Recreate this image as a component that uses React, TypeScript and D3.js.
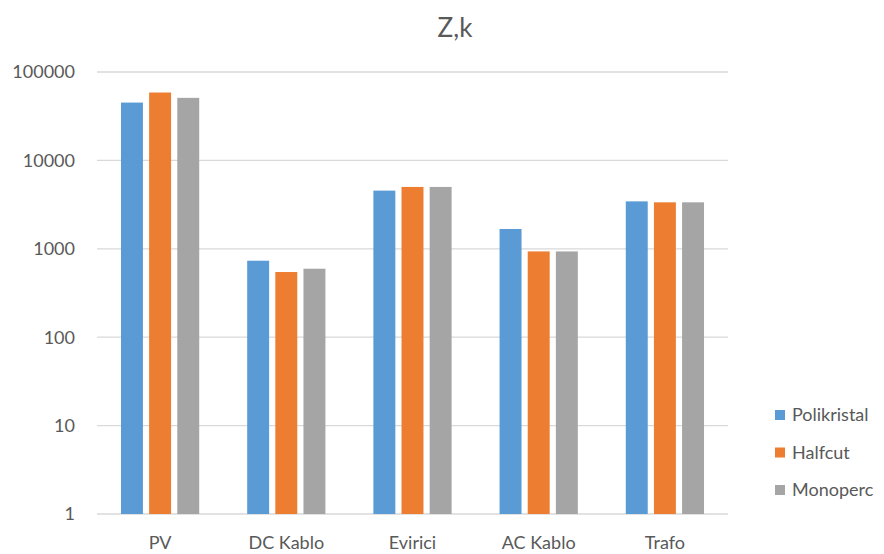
import React from 'react';
import { scaleBand, scaleLog } from 'd3';

const width = 884;
const height = 554;
const margin = { left: 97, right: 156, top: 72, bottom: 40 };
const plotW = width - margin.left - margin.right;
const plotH = height - margin.top - margin.bottom;

const categories = ['PV', 'DC Kablo', 'Evirici', 'AC Kablo', 'Trafo'];
const seriesNames = ['Polikristal', 'Halfcut', 'Monoperc'];
const polikristal = [45100, 733, 4550, 1676, 3440];
const halfcut = [58600, 546, 5010, 934, 3355];
const monoperc = [51000, 595, 5010, 934, 3355];
const colors = ['#5B9BD5', '#ED7D31', '#A5A5A5'];
const yTicks = [1, 10, 100, 1000, 10000, 100000];

const allSeries = [polikristal, halfcut, monoperc];

const x = scaleBand<string>().domain(categories).range([0, plotW]).paddingInner(0.38).paddingOuter(0.19);
const inner = scaleBand<string>().domain(seriesNames).range([0, x.bandwidth()]).paddingInner(0.22);
const y = scaleLog().domain([1, 100000]).range([plotH, 0]);

const font = 'Lato, "Open Sans", sans-serif';
const textColor = '#595959';

const App = () => {
  return (
    <svg width={width} height={height} style={{ position: 'absolute', left: 0, top: 0, background: '#fff' }}>
      <text x={455} y={37} textAnchor="middle" fontFamily={font} fontSize={26} fill={textColor}>
        Z,k
      </text>
      <g transform={`translate(${margin.left},${margin.top})`}>
        {yTicks.map((t) => (
          <g key={t}>
            <line x1={0} x2={plotW} y1={y(t)} y2={y(t)} stroke="#D9D9D9" strokeWidth={1.3} />
            <text x={-22} y={y(t)} dy="0.35em" textAnchor="end" fontFamily={font} fontSize={18} fill={textColor}>
              {t}
            </text>
          </g>
        ))}
        {categories.map((c, i) => (
          <g key={c} transform={`translate(${x(c)},0)`}>
            {allSeries.map((s, j) => (
              <rect
                key={j}
                x={inner(seriesNames[j])}
                y={y(s[i])}
                width={inner.bandwidth()}
                height={plotH - y(s[i])}
                fill={colors[j]}
              />
            ))}
            <text x={x.bandwidth() / 2} y={plotH + 35} textAnchor="middle" fontFamily={font} fontSize={18} fill={textColor}>
              {c}
            </text>
          </g>
        ))}
      </g>
      <g transform="translate(775,415)">
        {seriesNames.map((n, j) => (
          <g key={n} transform={`translate(0,${j * 37.5})`}>
            <rect x={0} y={-5} width={10} height={10} fill={colors[j]} />
            <text x={17} y={0} dy="0.35em" fontFamily={font} fontSize={18} fill={textColor}>
              {n}
            </text>
          </g>
        ))}
      </g>
    </svg>
  );
};

export default App;
